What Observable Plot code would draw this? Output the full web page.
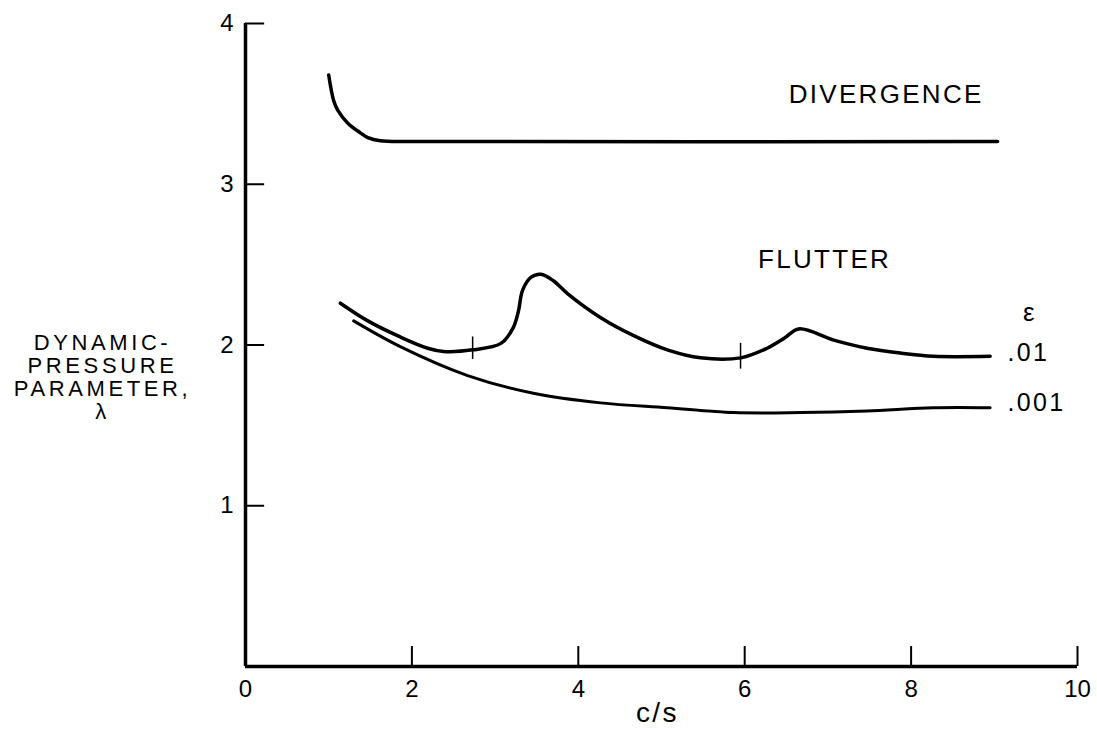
<!DOCTYPE html>
<html>
<head>
<meta charset="utf-8">
<script src="https://cdn.jsdelivr.net/npm/d3@7"></script>
<script src="https://cdn.jsdelivr.net/npm/@observablehq/plot@0.6"></script>
<style>
  html, body { margin: 0; padding: 0; background: #fff; }
  svg g[aria-label="text"] text { letter-spacing: 2.3px; }
</style>
</head>
<body>
<div id="chart"></div>
<script>
// Divergence boundary
const divergenceX = [1.00, 1.06, 1.11, 1.23, 1.38, 1.47, 1.62, 2.10, 9.04];
const divergenceY = [3.68, 3.52, 3.46, 3.38, 3.32, 3.29, 3.27, 3.266, 3.266];

// Flutter boundary, epsilon = .01
const flutter01X = [1.14, 1.47, 1.86, 2.19, 2.38, 2.73, 3.07, 3.22, 3.28, 3.33, 3.43, 3.55, 3.70, 3.87, 4.27, 4.66, 5.07, 5.47, 5.95, 6.27, 6.47, 6.65, 7.07, 7.47, 7.87, 8.27, 8.95];
const flutter01Y = [2.26, 2.15, 2.05, 1.98, 1.96, 1.97, 2.01, 2.11, 2.21, 2.34, 2.42, 2.44, 2.40, 2.32, 2.17, 2.06, 1.97, 1.92, 1.92, 1.98, 2.04, 2.10, 2.03, 1.98, 1.95, 1.93, 1.93];

// Flutter boundary, epsilon = .001
const flutter001X = [1.30, 1.86, 2.67, 3.46, 4.27, 5.07, 5.87, 6.67, 7.47, 8.27, 8.95];
const flutter001Y = [2.15, 1.99, 1.81, 1.70, 1.64, 1.61, 1.58, 1.58, 1.59, 1.61, 1.61];

// Small cross-marks on the .01 curve
const markX = [2.73, 5.95];
const markY1 = [1.91, 1.85];
const markY2 = [2.05, 2.01];

// Axis ticks
const xTicks = [0, 2, 4, 6, 8, 10];
const xTickMarks = [2, 4, 6, 8, 10];
const yTicks = [1, 2, 3, 4];

// Annotations
const annText = ["DIVERGENCE", "FLUTTER", "\u03B5"];
const annX = [7.70, 6.96, 9.43];
const annY = [3.56, 2.53, 2.20];
const seriesText = [".01", ".001"];
const seriesX = [9.16, 9.16];
const seriesY = [1.95, 1.64];

const xLabel = "c/s";
const yLabel = "DYNAMIC-\nPRESSURE\nPARAMETER,\n\u03BB";

const toRows = (xs, ys) => xs.map((x, i) => ({x, y: ys[i]}));
const div = toRows(divergenceX, divergenceY);
const f01 = toRows(flutter01X, flutter01Y);
const f001 = toRows(flutter001X, flutter001Y);
const marks = markX.map((x, i) => ({x, y1: markY1[i], y2: markY2[i]}));
const ann = annText.map((t, i) => ({t, x: annX[i], y: annY[i]}));
const ser = seriesText.map((t, i) => ({t, x: seriesX[i], y: seriesY[i]}));

const lw = 3.5;

const plot = Plot.plot({
  width: 1097,
  height: 730,
  marginLeft: 245,
  marginRight: 20,
  marginTop: 23,
  marginBottom: 64,
  style: {fontFamily: "'Liberation Sans', Arial, sans-serif", fontSize: "24px", color: "black", background: "white"},
  x: {domain: [0, 10]},
  y: {domain: [0, 4]},
  marks: [
    Plot.axisX({ticks: xTicks, tickSize: 0, tickPadding: 13, fontSize: 24, label: null, tickFormat: d => String(d)}),
    Plot.axisY({ticks: yTicks, tickSize: 0, tickPadding: 12, fontSize: 24, label: null, tickFormat: d => String(d)}),
    Plot.ruleY([0], {x1: 0, x2: 10, stroke: "black", strokeWidth: lw}),
    Plot.ruleX([0], {y1: 0, y2: 4, stroke: "black", strokeWidth: lw}),
    Plot.ruleX(xTickMarks, {y1: 0, y2: 0.124, stroke: "black", strokeWidth: 2}),
    Plot.ruleY(yTicks, {x1: 0, x2: 0.23, stroke: "black", strokeWidth: 2}),
    Plot.line(div, {x: "x", y: "y", curve: "catmull-rom", stroke: "black", strokeWidth: lw}),
    Plot.line(f01, {x: "x", y: "y", curve: "catmull-rom", stroke: "black", strokeWidth: lw}),
    Plot.line(f001, {x: "x", y: "y", curve: "catmull-rom", stroke: "black", strokeWidth: 3}),
    Plot.ruleX(marks, {x: "x", y1: "y1", y2: "y2", stroke: "black", strokeWidth: 1.5}),
    Plot.text(ann, {x: "x", y: "y", text: "t", fontSize: 26, fill: "black"}),
    Plot.text(ser, {x: "x", y: "y", text: "t", fontSize: 25, textAnchor: "start", fill: "black"}),
    Plot.text([xLabel], {x: 4.95, y: 0, dy: 47, fontSize: 28, fill: "black"}),
    Plot.text([yLabel], {x: 0, y: 1.80, dx: -143, fontSize: 22, lineHeight: 1.05, fill: "black"})
  ]
});
d3.select(plot).selectAll('g[aria-label="text"] text')
  .filter(function() { return this.textContent.includes("PARAMETER"); })
  .style("letter-spacing", "3.6px");
document.getElementById("chart").appendChild(plot);
</script>
</body>
</html>
